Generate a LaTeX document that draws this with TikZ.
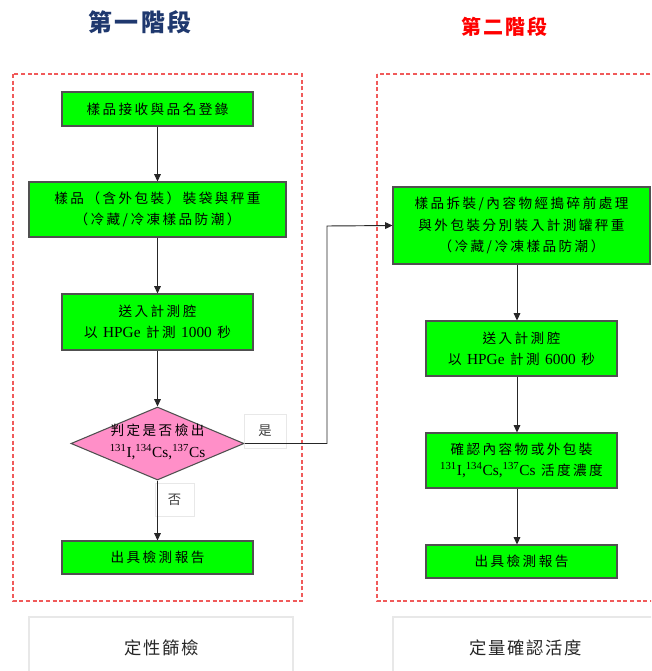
\documentclass[tikz,border=0pt]{standalone}
\usepackage{fontspec}
\usetikzlibrary{arrows.meta,shapes.geometric}
\setmainfont{Liberation Serif}
\newfontfamily\cjk[LetterSpace=18]{Noto Sans CJK TC}
\newfontfamily\cjkwide[LetterSpace=10]{Noto Sans CJK TC}
\newcommand\lat[1]{{\rmfamily\fontsize{11.5}{16}\selectfont #1}}
\newcommand\iso{\lat{\textsuperscript{131}I,\textsuperscript{134}Cs,\textsuperscript{137}Cs}}
\definecolor{boxgreen}{RGB}{0,255,0}
\definecolor{boxline}{RGB}{80,80,80}
\definecolor{diapink}{RGB}{255,143,200}
\definecolor{framered}{RGB}{240,90,90}
\definecolor{navy}{RGB}{31,56,110}
\definecolor{lightline}{RGB}{232,232,232}
\tikzset{
  wpx/.style={minimum width=#1*0.75pt},
  hpx/.style={minimum height=#1*0.75pt},
  gbox/.style={draw=boxline, fill=boxgreen, line width=0.8pt, align=center, inner sep=0pt,
    font=\cjk\fontsize{10.2}{16}\selectfont},
  frame/.style={draw=framered, line width=0.8pt, dash pattern=on 3pt off 2pt},
  arr/.style={draw=black!85, line width=0.7pt, -{Triangle[length=5.5pt,width=5pt]}},
  tag/.style={draw=lightline, fill=white, line width=0.6pt, inner sep=0pt,
    font=\cjk\fontsize{10}{12}\selectfont, text=black!75},
}
\begin{document}
\begin{tikzpicture}[x=0.75pt,y=-0.75pt]
\useasboundingbox (0,0) rectangle (651,671);
\begin{scope}
\clip (0,0) rectangle (651,671);
\fill[white] (0,0) rectangle (651,671);
% titles
\node[font=\cjkwide\bfseries\fontsize{18}{20}\selectfont, text=navy] (t1) at (140,22) {第一階段};
\node[font=\cjkwide\bfseries\fontsize{15}{18}\selectfont, text=red] (t2) at (504,27) {第二階段};
% frames
\draw[frame] (13,74) rectangle (302,601);
\draw[frame] (377,74) rectangle (700,601);
% caption boxes
\draw[draw=lightline, line width=0.8pt] (29,617) rectangle (293,700);
\draw[draw=lightline, line width=0.8pt] (393,617) rectangle (700,700);
\node[font=\cjkwide\fontsize{13}{15}\selectfont, text=black!85] (c1) at (162,648) {定性篩檢};
\node[font=\cjkwide\fontsize{13}{15}\selectfont, text=black!85] (c2) at (526,648) {定量確認活度};
% left column
\node[gbox, wpx=191, hpx=34] (b1) at (157.5,109) {樣品接收與品名登錄};
\node[gbox, wpx=257, hpx=55] (b2) at (157.5,209.5) {樣品（含外包裝）裝袋與秤重\\（冷藏/冷凍樣品防潮）};
\node[gbox, wpx=191, hpx=56] (b3) at (157.5,322) {送入計測腔\\以 \lat{HPGe} 計測 \lat{1000} 秒};
\node[diamond, draw=boxline, fill=diapink, line width=0.8pt, wpx=173, hpx=73, inner sep=0pt] (d) at (157.5,443.5) {};
\node[align=center, inner sep=0pt, font=\cjk\fontsize{10.2}{16}\selectfont] (dt) at (157.5,442) {判定是否檢出\\\iso};
\node[gbox, wpx=191, hpx=33] (b5) at (157.5,557.5) {出具檢測報告};
% right column
\node[gbox, wpx=257, hpx=77] (b4) at (521.5,225.5) {樣品拆裝/內容物經搗碎前處理\\與外包裝分別裝入計測罐秤重\\（冷藏/冷凍樣品防潮）};
\node[gbox, wpx=191, hpx=55] (b6) at (521.5,348.5) {送入計測腔\\以 \lat{HPGe} 計測 \lat{6000} 秒};
\node[gbox, wpx=191, hpx=55] (b7) at (521.5,460.5) {確認內容物或外包裝\\\iso\ 活度濃度};
\node[gbox, wpx=191, hpx=33] (b8) at (521.5,561.5) {出具檢測報告};
% tags
\node[tag, wpx=42, hpx=34] (yes) at (265,431) {是};
\node[tag, wpx=39, hpx=33] (no) at (174.5,499.5) {否};
% connectors
\coordinate (rx) at (517,0);
\coordinate (j) at (327,226);
\draw[arr] (b1) -- (b2);
\draw[arr] (b2) -- (b3);
\draw[arr] (b3) -- (d);
\draw[arr] (d) -- (b5);
\draw[arr] (d.east) -| (j) -- (b4.west);
\draw[arr] (b4.south -| rx) -- (b6.north -| rx);
\draw[arr] (b6.south -| rx) -- (b7.north -| rx);
\draw[arr] (b7.south -| rx) -- (b8.north -| rx);
\end{scope}
\end{tikzpicture}
\end{document}
